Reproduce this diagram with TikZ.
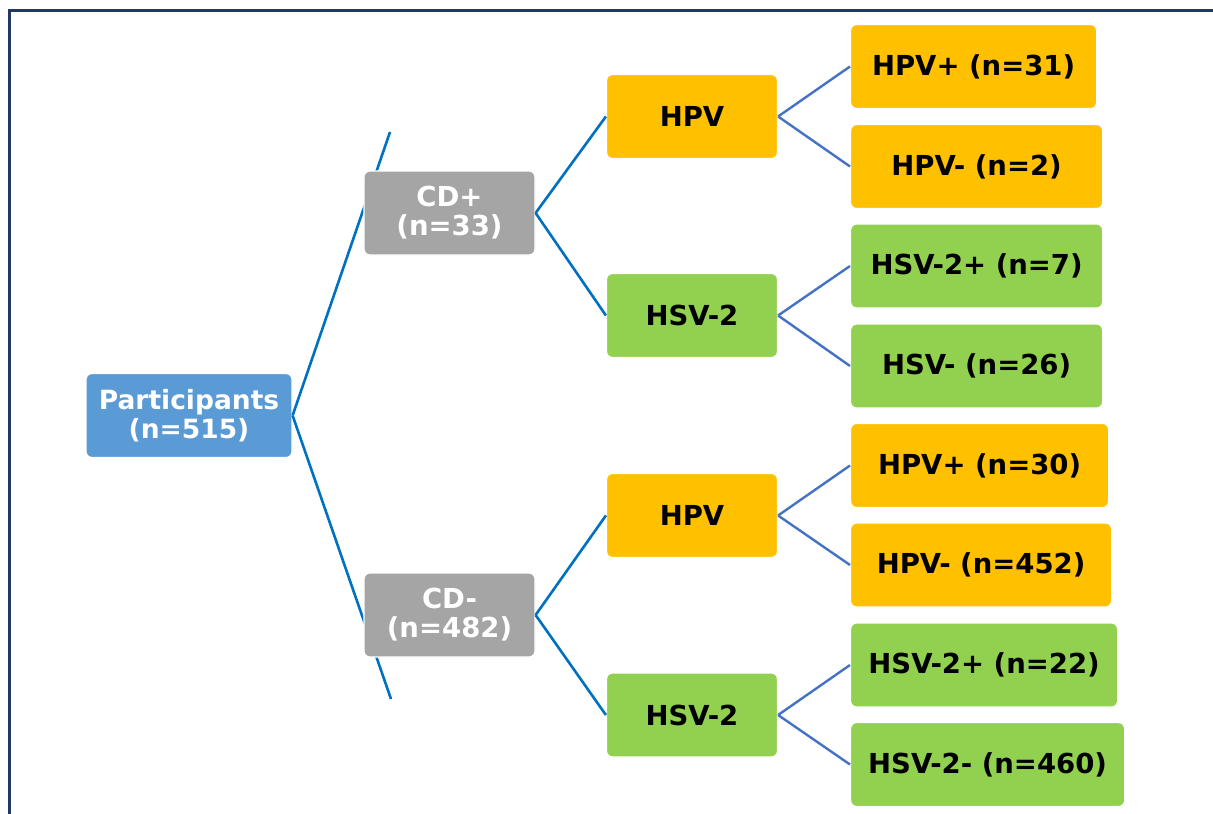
\documentclass[tikz,border=0pt]{standalone}
\usepackage{fontspec}
\setmainfont{DejaVu Sans}
\definecolor{frameC}{HTML}{1F3864}
\definecolor{lineA}{HTML}{0070C0}
\definecolor{lineB}{HTML}{4472C4}
\definecolor{partC}{HTML}{5B9BD5}
\definecolor{grayC}{HTML}{A5A5A5}
\definecolor{yelC}{HTML}{FFC000}
\definecolor{grnC}{HTML}{92D050}
\tikzset{
  box/.style={rounded corners=6pt, draw=white, line width=1.2pt, align=center,
    font=\fontsize{27.5pt}{29pt}\selectfont\bfseries, inner sep=0pt, minimum height=84pt},
  rootbox/.style={box, fill=partC, text=white, minimum width=206pt,
    font=\fontsize{26.5pt}{29pt}\selectfont\bfseries},
  cdbox/.style={box, fill=grayC, text=white, minimum width=171pt},
  hpvbox/.style={box, fill=yelC, text=black, minimum width=171pt},
  hsvbox/.style={box, fill=grnC, text=black, minimum width=171pt},
  hpvleaf/.style={box, fill=yelC, text=black, anchor=west},
  hsvleaf/.style={box, fill=grnC, text=black, anchor=west},
  linkA/.style={draw=lineA, line width=2.6pt},
  linkB/.style={draw=lineB, line width=2.4pt},
}
\begin{document}
\begin{tikzpicture}[x=1pt,y=-1pt]
\useasboundingbox (0,0) rectangle (1213,814);
\draw[frameC, line width=3pt] (9,820) -- (9,10) -- (1220,10);
% root
\node[rootbox] (root) at (189,415.5) {Participants\\(n=515)};
\coordinate (rtop) at (390,132);
\coordinate (rbot) at (391,699);
\draw[linkA] (root.east) -- (rtop);
\draw[linkA] (root.east) -- (rbot);
\node[cdbox] (cdp) at (449.5,213) {CD+\\(n=33)};
\node[cdbox] (cdm) at (449.5,615) {CD-\\(n=482)};
% level 3
\node[hpvbox] (hpv1) at (692,116.5) {HPV};
\node[hsvbox] (hsv1) at (692,315.5) {HSV-2};
\node[hpvbox] (hpv2) at (692,515.5) {HPV};
\node[hsvbox] (hsv2) at (692,715) {HSV-2};
\draw[linkA] (cdp.east) -- (hpv1.west);
\draw[linkA] (cdp.east) -- (hsv1.west);
\draw[linkA] (cdm.east) -- (hpv2.west);
\draw[linkA] (cdm.east) -- (hsv2.west);
% leaves
\node[hpvleaf, minimum width=246pt] (l1) at (850,66.5) {HPV+ (n=31)};
\node[hpvleaf, minimum width=252pt] (l2) at (850,166.5) {HPV- (n=2)};
\node[hsvleaf, minimum width=252pt] (l3) at (850,266) {HSV-2+ (n=7)};
\node[hsvleaf, minimum width=252pt] (l4) at (850,366) {HSV- (n=26)};
\node[hpvleaf, minimum width=258pt] (l5) at (850,465.5) {HPV+ (n=30)};
\node[hpvleaf, minimum width=261pt] (l6) at (850,565) {HPV- (n=452)};
\node[hsvleaf, minimum width=267pt] (l7) at (850,665) {HSV-2+ (n=22)};
\node[hsvleaf, minimum width=274pt] (l8) at (850,764.5) {HSV-2- (n=460)};
\draw[linkB] (hpv1.east) -- (l1.west);
\draw[linkB] (hpv1.east) -- (l2.west);
\draw[linkB] (hsv1.east) -- (l3.west);
\draw[linkB] (hsv1.east) -- (l4.west);
\draw[linkB] (hpv2.east) -- (l5.west);
\draw[linkB] (hpv2.east) -- (l6.west);
\draw[linkB] (hsv2.east) -- (l7.west);
\draw[linkB] (hsv2.east) -- (l8.west);
\end{tikzpicture}
\end{document}
